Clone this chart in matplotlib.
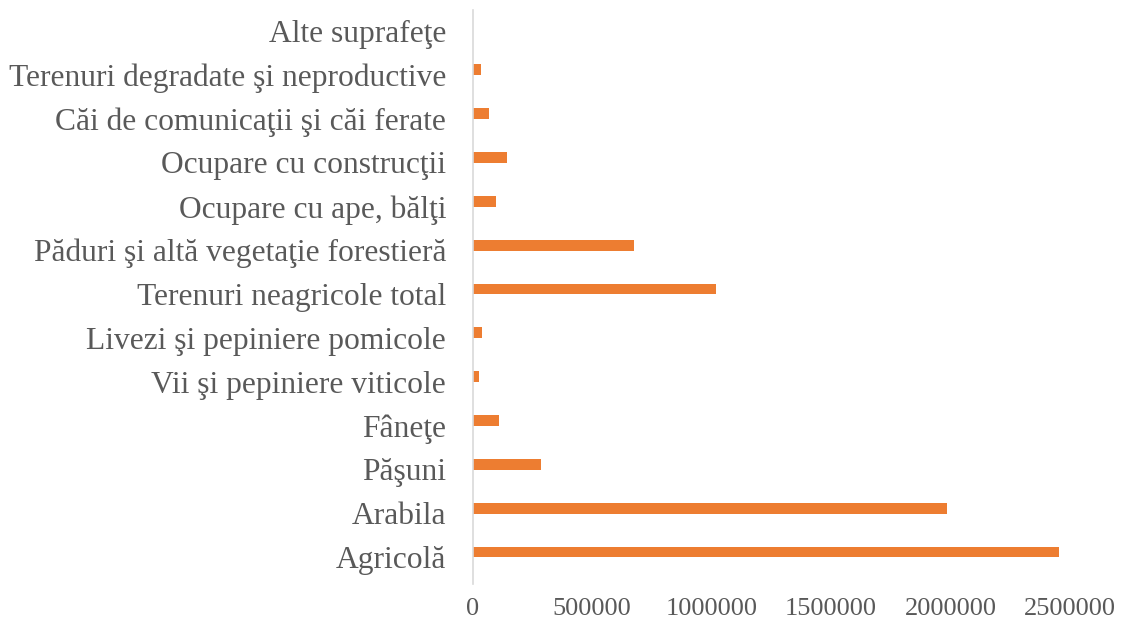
import matplotlib
matplotlib.use("Agg")
import matplotlib.pyplot as plt
from matplotlib.transforms import ScaledTranslation

categories = [
    "Agricolă",
    "Arabila",
    "Păşuni",
    "Fâneţe",
    "Vii şi pepiniere viticole",
    "Livezi şi pepiniere pomicole",
    "Terenuri neagricole total",
    "Păduri şi altă vegetaţie forestieră",
    "Ocupare cu ape, bălţi",
    "Ocupare cu construcţii",
    "Căi de comunicaţii şi căi ferate",
    "Terenuri degradate şi neproductive",
    "Alte suprafeţe",
]
values = [2454000, 1984000, 288000, 110000, 27000, 41000, 1019000,
          676000, 97000, 143000, 68000, 34000, 0]
xticks = [0, 500000, 1000000, 1500000, 2000000, 2500000]

plt.rcParams['font.family'] = ['Liberation Serif', 'DejaVu Serif']

fig = plt.figure(figsize=(11.23, 6.22), dpi=100)
ax = fig.add_axes([472.5 / 1123, 1 - 584 / 622, (1070 - 472.5) / 1123, 574 / 622])

ypos = list(range(len(categories)))
ax.barh(ypos, values, height=0.25, color="#ED7D31")
ax.set_ylim(-0.73, 12.365)
ax.set_xlim(0, 2500000)
ax.set_yticks(ypos)
ax.set_yticklabels(categories, fontsize=22.7, color="#595959")
ax.set_xticks(xticks)
ax.set_xticklabels([str(v) for v in xticks], fontsize=19, color="#595959")
ax.tick_params(axis='both', length=0)
ax.tick_params(axis='y', pad=19)
ax.tick_params(axis='x', pad=10)
off = ScaledTranslation(0, -5 / 100, fig.dpi_scale_trans)
for lab in ax.get_yticklabels():
    lab.set_transform(lab.get_transform() + off)
for s in ["top", "right", "bottom"]:
    ax.spines[s].set_visible(False)
ax.spines["left"].set_color("#D9D9D9")
ax.spines["left"].set_linewidth(1.2)

fig.savefig("out.png", dpi=100)
